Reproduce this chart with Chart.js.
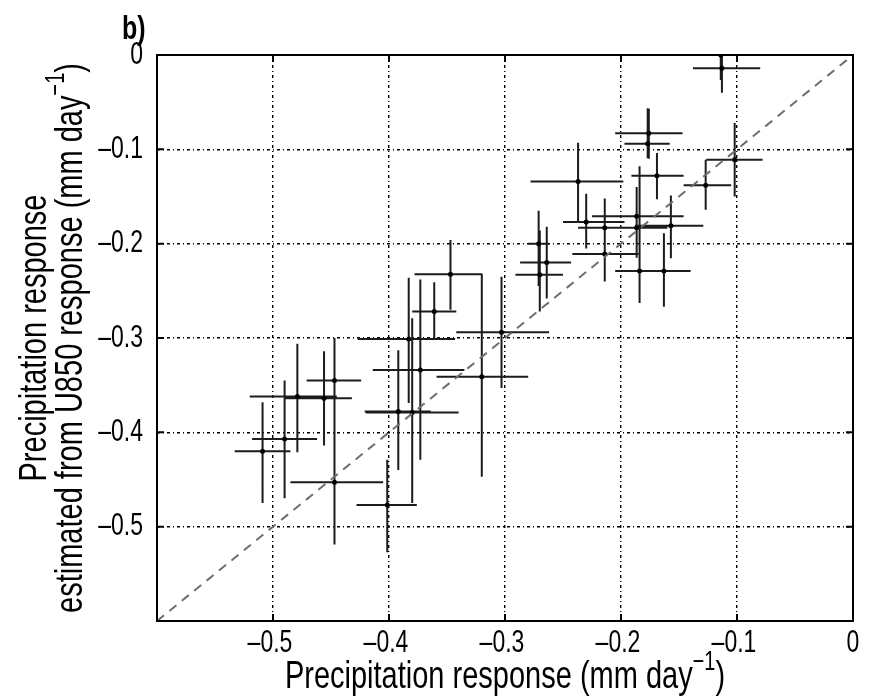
<!DOCTYPE html>
<html>
<head>
<meta charset="utf-8">
<script src="https://cdn.jsdelivr.net/npm/chart.js@4/dist/chart.umd.min.js"></script>
<style>
  body { margin: 0; background: #fff; }
  canvas { display: block; }
</style>
</head>
<body>
<canvas id="chart" width="869" height="699"></canvas>
<script>
// simulated precipitation response (x) vs. estimate from U850 response (y), mm/day
const xCenter = [-0.509, -0.490, -0.479, -0.456, -0.447, -0.447, -0.4015, -0.392, -0.380, -0.383, -0.373,
  -0.347, -0.320, -0.361, -0.303, -0.271, -0.264, -0.270, -0.237, -0.230, -0.214, -0.214, -0.1865,
  -0.1865, -0.184, -0.163, -0.169, -0.157, -0.127, -0.102, -0.176, -0.177, -0.114, -0.113];
const yCenter = [-0.420, -0.407, -0.362, -0.364, -0.345, -0.453, -0.477, -0.378, -0.379, -0.301, -0.334,
  -0.2325, -0.341, -0.272, -0.294, -0.200, -0.220, -0.233, -0.134, -0.177, -0.183, -0.211, -0.171,
  -0.183, -0.229, -0.229, -0.128, -0.181, -0.138, -0.111, -0.083, -0.094, 0.0, -0.014];
// error ranges
const xLow = [-0.533, -0.518, -0.520, -0.490, -0.471, -0.485, -0.428, -0.421, -0.420, -0.427, -0.414,
  -0.378, -0.359, -0.380, -0.342, -0.280, -0.287, -0.291, -0.278, -0.250, -0.237, -0.242, -0.225,
  -0.210, -0.205, -0.205, -0.191, -0.188, -0.146, -0.1265, -0.205, -0.197, -0.153, -0.138];
const xHigh = [-0.485, -0.462, -0.445, -0.432, -0.424, -0.405, -0.376, -0.364, -0.340, -0.343, -0.335,
  -0.320, -0.280, -0.342, -0.262, -0.262, -0.243, -0.250, -0.198, -0.197, -0.185, -0.185, -0.146,
  -0.160, -0.140, -0.140, -0.146, -0.129, -0.105, -0.078, -0.147, -0.158, -0.071, -0.080];
const yLow = [-0.475, -0.470, -0.421, -0.414, -0.400, -0.519, -0.527, -0.440, -0.475, -0.369, -0.429,
  -0.270, -0.447, -0.302, -0.353, -0.245, -0.258, -0.272, -0.177, -0.205, -0.240, -0.240, -0.215,
  -0.210, -0.263, -0.267, -0.153, -0.2155, -0.164, -0.150, -0.110, -0.1095, -0.0265, -0.040];
const yHigh = [-0.368, -0.345, -0.306, -0.314, -0.300, -0.300, -0.429, -0.313, -0.279, -0.236, -0.238,
  -0.196, -0.232, -0.241, -0.235, -0.165, -0.182, -0.186, -0.093, -0.147, -0.152, -0.152, -0.140,
  -0.145, -0.118, -0.189, -0.104, -0.149, -0.111, -0.072, -0.057, -0.0565, 0.0, 0.0];

const axisMin = -0.6;
const axisMax = 0;
const tickStep = 0.1;
const panelLabel = 'b)';
const xTitle = ['Precipitation response (mm day', '\u22121', ')'];
const yTitle1 = 'Precipitation response';
const yTitle2 = ['estimated from U850 response (mm day', '\u22121', ')'];

const FONT = '"Liberation Sans", Arial, Helvetica, sans-serif';
const STRETCH = 1.35; // lettering in the figure is tall and narrow

const fmtTick = v => {
  if (v < axisMin + tickStep / 2) return '';
  const s = Math.abs(v) < 1e-9 ? '0' : v.toFixed(1);
  return s.replace('-', '\u2013');
};

// text with a superscript piece, centred horizontally on 0, baseline at 0
const drawSupText = (ctx, parts, size) => {
  const supSize = Math.round(size * 0.68);
  ctx.font = size + 'px ' + FONT;
  const w0 = ctx.measureText(parts[0]).width;
  const w2 = ctx.measureText(parts[2]).width;
  ctx.font = supSize + 'px ' + FONT;
  const w1 = ctx.measureText(parts[1]).width;
  let x = -(w0 + w1 + w2) / 2;
  ctx.textAlign = 'left';
  ctx.textBaseline = 'alphabetic';
  ctx.font = size + 'px ' + FONT;
  ctx.fillText(parts[0], x, 0);
  x += w0;
  ctx.font = supSize + 'px ' + FONT;
  ctx.fillText(parts[1], x, -size * 0.45);
  x += w1;
  ctx.font = size + 'px ' + FONT;
  ctx.fillText(parts[2], x, 0);
};

const stretched = (ctx, x, y, rot, fn) => {
  ctx.save();
  ctx.translate(x, y);
  if (rot) ctx.rotate(rot);
  ctx.scale(1, STRETCH);
  fn();
  ctx.restore();
};

const errorBars = {
  id: 'errorBars',
  beforeDatasetsDraw(chart) {
    const { ctx, scales: { x, y } } = chart;
    ctx.save();
    ctx.strokeStyle = '#1c1c1c';
    ctx.lineWidth = 2;
    ctx.beginPath();
    for (let i = 0; i < xCenter.length; i++) {
      const px = x.getPixelForValue(xCenter[i]);
      const py = y.getPixelForValue(yCenter[i]);
      ctx.moveTo(x.getPixelForValue(xLow[i]), py);
      ctx.lineTo(x.getPixelForValue(xHigh[i]), py);
      ctx.moveTo(px, y.getPixelForValue(yLow[i]));
      ctx.lineTo(px, y.getPixelForValue(yHigh[i]));
    }
    ctx.stroke();
    ctx.restore();
  },
  afterDraw(chart) {
    const { ctx, chartArea: a, scales: { x, y } } = chart;
    ctx.save();
    // frame and inward ticks
    ctx.strokeStyle = '#000';
    ctx.lineWidth = 2;
    ctx.strokeRect(a.left, a.top, a.right - a.left, a.bottom - a.top);
    ctx.beginPath();
    x.ticks.forEach(t => {
      const px = x.getPixelForValue(t.value);
      ctx.moveTo(px, a.bottom); ctx.lineTo(px, a.bottom - 7);
      ctx.moveTo(px, a.top); ctx.lineTo(px, a.top + 7);
    });
    y.ticks.forEach(t => {
      const py = y.getPixelForValue(t.value);
      ctx.moveTo(a.left, py); ctx.lineTo(a.left + 7, py);
      ctx.moveTo(a.right, py); ctx.lineTo(a.right - 7, py);
    });
    ctx.stroke();

    ctx.fillStyle = '#000';
    // tick labels, placed by the scales
    const tickFont = '23px ' + FONT;
    x.ticks.forEach(t => {
      const label = fmtTick(t.value);
      if (!label) return;
      stretched(ctx, x.getPixelForValue(t.value) - (t.value < 0 ? 3 : 0), a.bottom + 22, 0, () => {
        ctx.font = tickFont;
        ctx.textAlign = 'center';
        ctx.textBaseline = 'middle';
        ctx.fillText(label, 0, 0);
      });
    });
    y.ticks.forEach(t => {
      const label = fmtTick(t.value);
      if (!label) return;
      stretched(ctx, a.left - 14, y.getPixelForValue(t.value), 0, () => {
        ctx.font = tickFont;
        ctx.textAlign = 'right';
        ctx.textBaseline = 'middle';
        ctx.fillText(label, 0, 0);
      });
    });

    // panel label
    stretched(ctx, 122, 39, 0, () => {
      ctx.font = 'bold 25px ' + FONT;
      ctx.textAlign = 'left';
      ctx.textBaseline = 'alphabetic';
      ctx.fillText(panelLabel, 0, 0);
    });

    // x title
    stretched(ctx, (a.left + a.right) / 2, 688, 0, () => drawSupText(ctx, xTitle, 29));

    // y title, two lines
    const cy = (a.top + a.bottom) / 2;
    stretched(ctx, 46, cy, -Math.PI / 2, () => {
      ctx.font = '29px ' + FONT;
      ctx.textAlign = 'center';
      ctx.textBaseline = 'alphabetic';
      ctx.fillText(yTitle1, 0, 0);
    });
    stretched(ctx, 82, cy, -Math.PI / 2, () => drawSupText(ctx, yTitle2, 29));
    ctx.restore();
  }
};

const gridOpts = {
  color: '#000',
  lineWidth: 1.4,
  drawTicks: false
};

new Chart(document.getElementById('chart'), {
  type: 'scatter',
  data: {
    datasets: [
      {
        data: [{ x: axisMin, y: axisMin }, { x: axisMax, y: axisMax }],
        showLine: true,
        borderColor: '#6e6e6e',
        borderWidth: 2,
        borderDash: [9, 7],
        pointRadius: 0
      },
      {
        data: xCenter.map((v, i) => ({ x: v, y: yCenter[i] })),
        pointRadius: 2.5,
        pointBorderWidth: 0,
        backgroundColor: '#000'
      }
    ]
  },
  options: {
    responsive: false,
    animation: false,
    layout: { padding: { left: 0, top: 55, right: 16, bottom: 0 } },
    plugins: { legend: { display: false }, tooltip: { enabled: false } },
    scales: {
      x: {
        min: axisMin,
        max: axisMax,
        grid: gridOpts,
        border: { display: false, dash: [3, 3, 1, 3] },
        ticks: { stepSize: tickStep, display: false, callback: fmtTick },
        afterFit(scale) { scale.height = 78; }
      },
      y: {
        min: axisMin,
        max: axisMax,
        grid: gridOpts,
        border: { display: false, dash: [3, 3, 1, 3] },
        ticks: { stepSize: tickStep, display: false, callback: fmtTick },
        afterFit(scale) { scale.width = 157; }
      }
    }
  },
  plugins: [errorBars]
});
</script>
</body>
</html>
